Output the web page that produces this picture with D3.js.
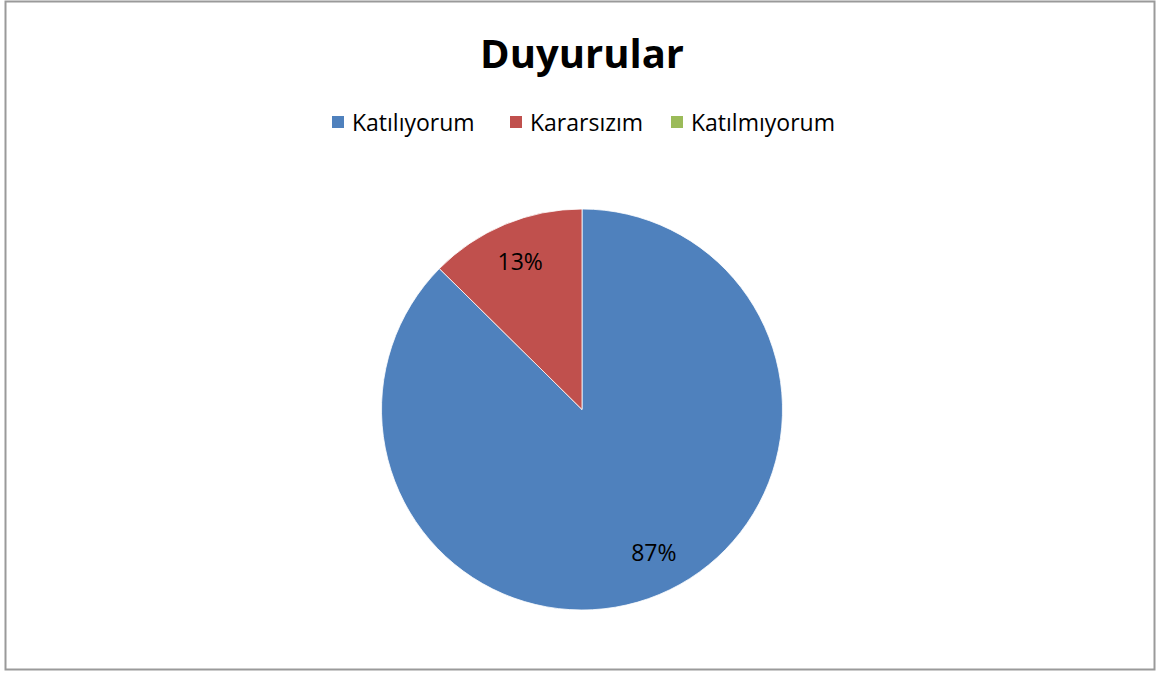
<!DOCTYPE html>
<html>
<head>
<meta charset="utf-8">
<script src="https://cdn.jsdelivr.net/npm/d3@7"></script>
<style>
  html, body { margin: 0; padding: 0; background: #fff; }
  svg { display: block; font-family: "Open Sans", Lato, sans-serif; }
</style>
</head>
<body>
<svg id="chart" width="1161" height="676"></svg>
<script>
// data
var categories = ['Katılıyorum', 'Kararsızım', 'Katılmıyorum'];
var values = [87.4, 12.6, 0];
var labels = ['87%', '13%', ''];
var colors = ['#4f81bd', '#c0504d', '#9bbb59'];

var svg = d3.select('#chart'),
  width = +svg.attr('width'),
  height = +svg.attr('height');

// frame
svg.append('rect')
  .attr('x', 5.5).attr('y', 1.5)
  .attr('width', 1149).attr('height', 668)
  .attr('fill', '#fff')
  .attr('stroke', '#9a9a9a')
  .attr('stroke-width', 2);

svg.append('text')
  .attr('x', 582)
  .attr('y', 68)
  .attr('text-anchor', 'middle')
  .style('font-size', '40px')
  .style('font-weight', 'bold')
  .text('Duyurular');

var color = d3.scaleOrdinal().domain(categories).range(colors);

// legend
var legendX = d3.scaleOrdinal().domain(categories).range([332, 510, 671]);
var legendElem = svg.append('g')
  .selectAll('g')
  .data(categories)
  .enter()
  .append('g')
  .attr('transform', d => 'translate(' + legendX(d) + ',116)');

legendElem.append('rect')
  .attr('width', 12)
  .attr('height', 12)
  .attr('fill', d => color(d));

legendElem.append('text')
  .attr('x', 20)
  .attr('y', 15)
  .style('font-size', '23px')
  .text(d => d);

// pie
var cx = 582, cy = 409.5, r = 200.5;
var pie = d3.pie().sort(null).value(d => d.value);
var arc = d3.arc().innerRadius(0).outerRadius(r);
var labelArc = d3.arc().innerRadius(r * 0.8).outerRadius(r * 0.8);

var data = categories.map((c, i) => ({ name: c, value: values[i], label: labels[i] }));

var g = svg.append('g').attr('transform', 'translate(' + cx + ',' + cy + ')');

g.selectAll('path')
  .data(pie(data).filter(d => d.data.value > 0))
  .enter()
  .append('path')
  .attr('d', arc)
  .attr('fill', d => color(d.data.name))
  .attr('stroke', '#fff')
  .attr('stroke-width', 0.8);

g.selectAll('text')
  .data(pie(data).filter(d => d.data.value > 0))
  .enter()
  .append('text')
  .attr('transform', d => {
    var c = labelArc.centroid(d);
    // the large slice's label sits a little nearer the right edge
    if (d.data.value > 50) c = [c[0] + 10, c[1] - 5];
    return 'translate(' + c + ')';
  })
  .attr('text-anchor', 'middle')
  .attr('dy', '0.35em')
  .style('font-size', '23px')
  .text(d => d.data.label);
</script>
</body>
</html>
